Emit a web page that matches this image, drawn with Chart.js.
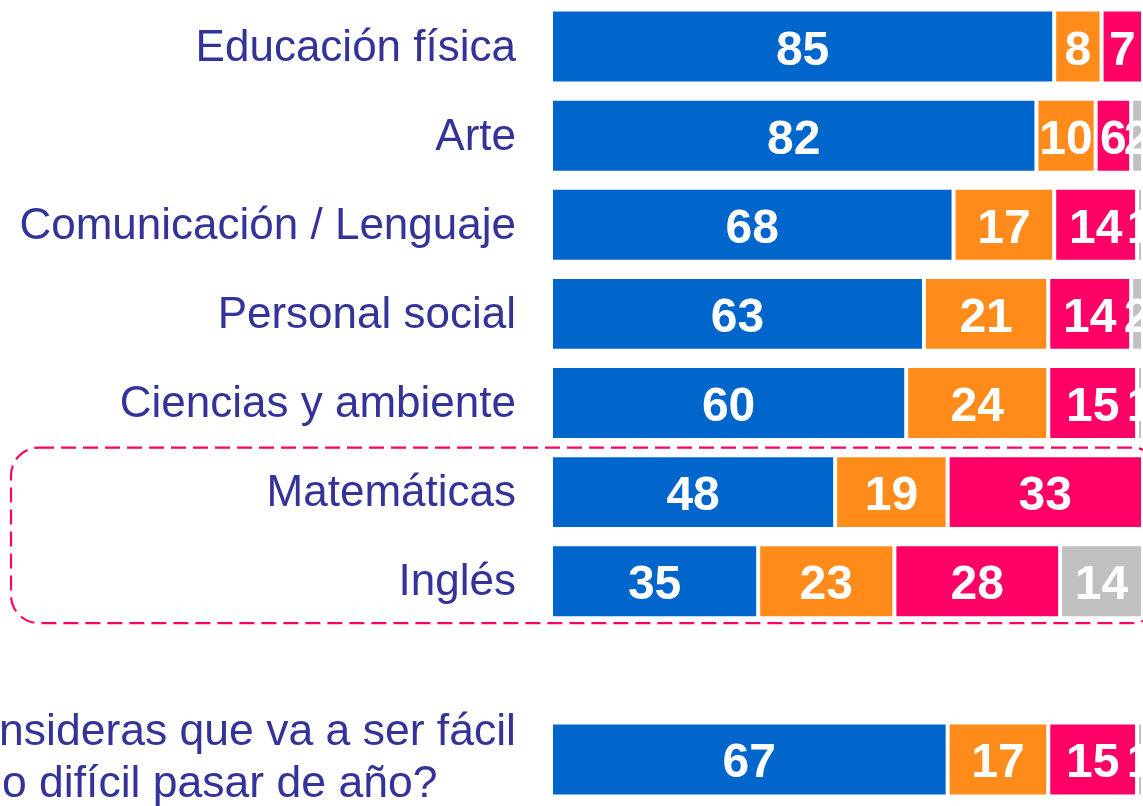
<!DOCTYPE html>
<html>
<head>
<meta charset="utf-8">
<script src="https://cdn.jsdelivr.net/npm/chart.js@4.4.1/dist/chart.umd.min.js"></script>
<style>
  html, body { margin: 0; padding: 0; background: #fff; overflow: hidden; }
  #wrap { width: 1143px; height: 806px; position: relative; }
</style>
</head>
<body>
<div id="wrap"><canvas id="chart"></canvas></div>
<script>
const categories = [
    'Educación física', 'Arte', 'Comunicación / Lenguaje', 'Personal social',
    'Ciencias y ambiente', 'Matemáticas', 'Inglés', '',
    ['¿Consideras que va a ser fácil', 'o difícil pasar de año?']
];
const facil   = [85, 82, 68, 63, 60, 48, 35, null, 67];
const regular = [8, 10, 17, 21, 24, 19, 23, null, 17];
const dificil = [7, 6, 14, 14, 15, 33, 28, null, 15];
const noSabe  = [0, 2, 1, 2, 1, 0, 14, null, 1];

const seriesNames = ['Fácil', 'Regular', 'Difícil', 'No sabe'];
const colors = ['#0066CC', '#FF8C1A', '#FF0066', '#C0C0C0'];

const FONT = '"Liberation Sans", Arial, sans-serif';
const labelColor = '#333399';

// white bold numbers in the middle of every segment
const valueLabels = {
    id: 'valueLabels',
    afterDatasetsDraw(chart) {
        const ctx = chart.ctx;
        ctx.save();
        ctx.font = 'bold 48px ' + FONT;
        ctx.fillStyle = '#fff';
        ctx.textAlign = 'center';
        ctx.textBaseline = 'alphabetic';
        chart.data.datasets.forEach((ds, i) => {
            chart.getDatasetMeta(i).data.forEach((bar, j) => {
                const v = ds.data[j];
                if (!v) return;
                ctx.fillText(String(v), (bar.x + bar.base) / 2, bar.y + 18);
            });
        });
        ctx.restore();
    }
};

// dashed box round Matemáticas / Inglés, plus the two-line question label
const extras = {
    id: 'extras',
    afterDraw(chart) {
        const ctx = chart.ctx;
        const y = chart.scales.y;

        const q = categories[8];
        const cy = y.getPixelForValue(8);
        ctx.save();
        ctx.font = '44.5px ' + FONT;
        ctx.fillStyle = labelColor;
        ctx.textBaseline = 'alphabetic';
        ctx.textAlign = 'right';
        ctx.fillText(q[0], 516, cy - 14);
        ctx.textAlign = 'left';
        ctx.fillText(q[1], 2, cy + 38);
        ctx.restore();

        const step = y.getPixelForValue(6) - y.getPixelForValue(5);
        const top = y.getPixelForValue(5) - step * 0.5;
        const bottom = y.getPixelForValue(6) + step * 0.47;
        const left = 11, right = 1160, r = 28;

        ctx.save();
        ctx.strokeStyle = '#FF0066';
        ctx.lineWidth = 2.2;
        ctx.setLineDash([15, 7]);
        ctx.beginPath();
        ctx.moveTo(left + r, top);
        ctx.lineTo(right - r, top);
        ctx.arcTo(right, top, right, top + r, r);
        ctx.lineTo(right, bottom - r);
        ctx.arcTo(right, bottom, right - r, bottom, r);
        ctx.lineTo(left + r, bottom);
        ctx.arcTo(left, bottom, left, bottom - r, r);
        ctx.lineTo(left, top + r);
        ctx.arcTo(left, top, left + r, top, r);
        ctx.stroke();
        ctx.restore();
    }
};

const datasets = [facil, regular, dificil, noSabe].map((d, i) => ({
    label: seriesNames[i],
    data: d,
    backgroundColor: colors[i],
    borderColor: '#fff',
    borderWidth: 2,
    borderSkipped: false,
    barPercentage: 0.83,
    categoryPercentage: 1
}));

new Chart(document.getElementById('chart'), {
    type: 'bar',
    data: { labels: categories, datasets: datasets },
    options: {
        indexAxis: 'y',
        responsive: true,
        maintainAspectRatio: false,
        animation: false,
        layout: { padding: { top: 2, bottom: 2, left: 0, right: 0 } },
        plugins: {
            legend: { display: false },
            tooltip: { enabled: false }
        },
        scales: {
            x: {
                stacked: true,
                min: 0,
                max: 100,
                display: false
            },
            y: {
                stacked: true,
                grid: { display: false, drawTicks: false },
                border: { display: false },
                afterFit: function (scale) {
                    scale.width = 551;
                    scale.paddingTop = 0;
                    scale.paddingBottom = 0;
                },
                ticks: {
                    padding: 35,
                    labelOffset: 2,
                    color: labelColor,
                    font: { family: FONT, size: 44 },
                    callback: function (value) {
                        const l = this.getLabelForValue(value);
                        return Array.isArray(l) ? '' : l;
                    }
                }
            }
        }
    },
    plugins: [valueLabels, extras]
});
</script>
</body>
</html>
